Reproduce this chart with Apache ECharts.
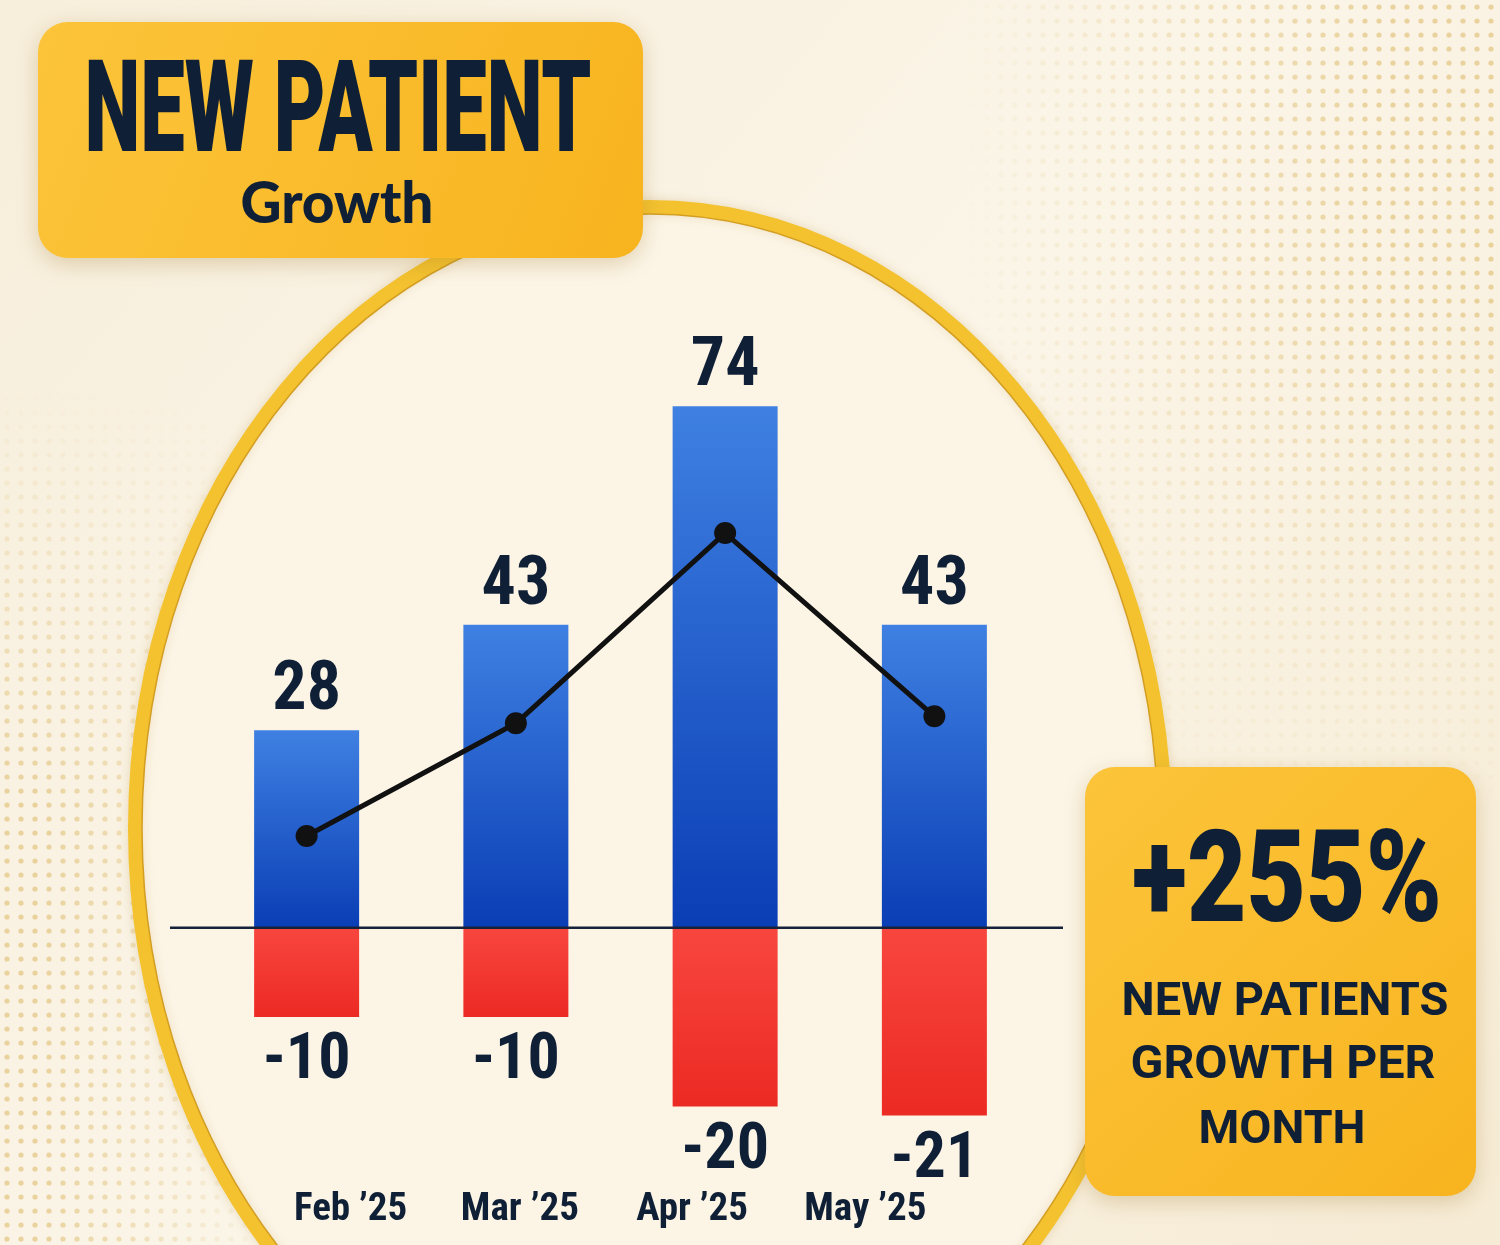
<!DOCTYPE html>
<html>
<head>
<meta charset="utf-8">
<script src="https://cdn.jsdelivr.net/npm/echarts@6/dist/echarts.min.js"></script>
<style>
html, body { margin: 0; padding: 0; background: #f8f0de; }
#main { width: 1500px; height: 1245px; }
</style>
</head>
<body>
<div id="main"></div>
<script>
// 图表数据
var months = ['Feb ’25', 'Mar ’25', 'Apr ’25', 'May ’25'];
var gained = [28, 43, 74, 43];
var lost = [-10, -10, -20, -21];
var trend = [13, 29, 56, 30];

// 文字
var titleMain = 'NEW PATIENT';
var titleSub = 'Growth';
var kpiValue = '+255%';
var kpiLines = ['NEW PATIENTS', 'GROWTH PER', 'MONTH'];

var NAVY = '#0f1f36';
var NARROW = "'Liberation Sans Narrow', 'Roboto Condensed', 'DejaVu Sans Condensed', Roboto, sans-serif";

// y axis range; the negative side is drawn a bit taller, as in the picture
var Y_MIN = -30, Y_MAX = 80, NEG_STRETCH = 1.27;
// month labels sit closer together than the bars (px shift per label)
var labelNudge = [44, 4, -33, -69];

// squeeze a headline into a target width
var measureCtx = document.createElement('canvas').getContext('2d');
function fitScale(text, weight, size, family, targetW) {
	measureCtx.font = weight + ' ' + size + 'px ' + family;
	return targetW / measureCtx.measureText(text).width;
}
function squeezedText(text, cx, cy, size, weight, family, targetW) {
	return {
		type : 'text',
		x : cx,
		y : cy,
		scaleX : fitScale(text, weight, size, family, targetW),
		z : 11,
		style : {
			text : text,
			fill : NAVY,
			fontSize : size,
			fontWeight : weight,
			fontFamily : family,
			align : 'center',
			verticalAlign : 'middle'
		}
	};
}

// dotted texture, fading out towards the middle
var dots = document.createElement('canvas');
dots.width = 1500;
dots.height = 1245;
(function() {
	var c = dots.getContext('2d');
	function clamp(v) { return Math.max(0, Math.min(1, v)); }
	for (var y = 7; y < 1245; y += 14) {
		for (var x = 7; x < 1500; x += 14) {
			var left = clamp((280 - x) / 240) * clamp((y - 380) / 420);
			var topRight = clamp((x - 960) / 420) * clamp((820 - y) / 520);
			var a = Math.max(left, topRight) * 0.65;
			if (a < 0.02) continue;
			c.fillStyle = 'rgba(224,192,118,' + a.toFixed(3) + ')';
			c.beginPath();
			c.arc(x, y, 2.6, 0, Math.PI * 2);
			c.fill();
		}
	}
})();

function yellowBox(x, y, w, h) {
	return {
		type : 'rect',
		z : 10,
		shape : { x : x, y : y, width : w, height : h, r : 30 },
		style : {
			fill : new echarts.graphic.LinearGradient(0, 0, 1, 1, [
				{ offset : 0, color : '#fcc43a' },
				{ offset : 1, color : '#f8b41f' } ]),
			shadowBlur : 22,
			shadowOffsetY : 6,
			shadowColor : 'rgba(150,110,30,0.28)'
		}
	};
}

// rich styles that push each month label sideways
var monthRich = {};
labelNudge.forEach(function(d, i) {
	monthRich['m' + i] = {
		fontSize : 39,
		fontWeight : 'bold',
		fontFamily : NARROW,
		color : NAVY,
		padding : d >= 0 ? [ 0, 0, 0, 2 * d ] : [ 0, -2 * d, 0, 0 ]
	};
});

var chart = echarts.init(document.getElementById('main'));

option = {
	animation : false,
	backgroundColor : new echarts.graphic.LinearGradient(0, 0, 1, 1, [
		{ offset : 0, color : '#f7eedb' },
		{ offset : 0.5, color : '#fbf5e8' },
		{ offset : 1, color : '#f6ebd4' } ]),
	graphic : [
		{ type : 'image', z : 0, style : { image : dots, x : 0, y : 0, width : 1500, height : 1245 } },
		// big gold ring
		{ type : 'ellipse', z : 1,
			shape : { cx : 650, cy : 828, rx : 515, ry : 621 },
			style : { fill : '#fcf5e6', stroke : '#f4c22f', lineWidth : 14,
				shadowBlur : 12, shadowColor : 'rgba(160,120,30,0.18)' } },
		{ type : 'ellipse', z : 1.1,
			shape : { cx : 650, cy : 828, rx : 508, ry : 614 },
			style : { fill : null, stroke : '#d39e22', lineWidth : 1.5 } },
		// zero line, placed once the axis is known
		{ id : 'zeroLine', type : 'line', z : 3, invisible : true,
			shape : { x1 : 0, y1 : 0, x2 : 0, y2 : 0 },
			style : { stroke : '#16223a', lineWidth : 2.5 } },
		// title box
		yellowBox(38, 22, 605, 236),
		squeezedText(titleMain, 338, 119, 128, 900, 'Roboto, sans-serif', 507),
		squeezedText(titleSub, 337, 204, 58, 900, 'Lato, sans-serif', 193),
		// KPI box
		yellowBox(1085, 767, 391, 429),
		squeezedText(kpiValue, 1287, 889, 128, 900, 'Roboto, sans-serif', 310),
		squeezedText(kpiLines[0], 1285, 1003, 47, 'bold', 'Roboto, sans-serif', 327),
		squeezedText(kpiLines[1], 1283, 1066, 47, 'bold', 'Roboto, sans-serif', 305),
		squeezedText(kpiLines[2], 1282, 1131, 47, 'bold', 'Roboto, sans-serif', 167)
	],
	grid : {
		left : 202,
		right : 461,
		top : 364,
		bottom : 106,
		outerBoundsMode : 'none'
	},
	xAxis : {
		type : 'category',
		data : months,
		z : 4,
		axisLine : { show : false, onZero : false },
		axisTick : { show : false },
		axisLabel : {
			interval : 0,
			margin : 52,
			formatter : function(value, index) {
				return '{m' + index + '|' + value + '}';
			},
			rich : monthRich
		}
	},
	yAxis : [ {
		type : 'value',
		min : Y_MIN,
		max : Y_MAX,
		show : false
	}, {
		type : 'value',
		min : Y_MIN / NEG_STRETCH,
		max : Y_MAX / NEG_STRETCH,
		show : false
	} ],
	series : [ {
		name : 'New patients',
		type : 'bar',
		yAxisIndex : 0,
		data : gained,
		barWidth : 105,
		barGap : '-100%',
		itemStyle : {
			color : new echarts.graphic.LinearGradient(0, 0, 0, 1, [
				{ offset : 0, color : '#3f80e2' },
				{ offset : 1, color : '#0a3eb5' } ])
		},
		label : {
			show : true,
			position : 'top',
			distance : 4,
			fontSize : 68,
			fontWeight : 'bold',
			fontFamily : NARROW,
			color : NAVY
		}
	}, {
		name : 'Lost patients',
		type : 'bar',
		yAxisIndex : 1,
		data : lost,
		barWidth : 105,
		barGap : '-100%',
		itemStyle : {
			color : new echarts.graphic.LinearGradient(0, 0, 0, 1, [
				{ offset : 0, color : '#f7463e' },
				{ offset : 1, color : '#ec2a24' } ])
		},
		label : {
			show : true,
			position : 'bottom',
			distance : 13,
			fontSize : 64,
			fontWeight : 'bold',
			fontFamily : NARROW,
			color : NAVY
		}
	}, {
		name : 'Trend',
		type : 'line',
		yAxisIndex : 0,
		data : trend,
		z : 5,
		symbol : 'circle',
		symbolSize : 22,
		lineStyle : { color : '#111111', width : 5 },
		itemStyle : { color : '#111111' }
	} ]
};

chart.setOption(option);

// 零线：比绘图区左右各长一点
var zeroY = chart.convertToPixel({ yAxisIndex : 0 }, 0);
chart.setOption({
	graphic : [ {
		id : 'zeroLine',
		invisible : false,
		shape : { x1 : 170, y1 : zeroY, x2 : 1063, y2 : zeroY }
	} ]
});
</script>
</body>
</html>
